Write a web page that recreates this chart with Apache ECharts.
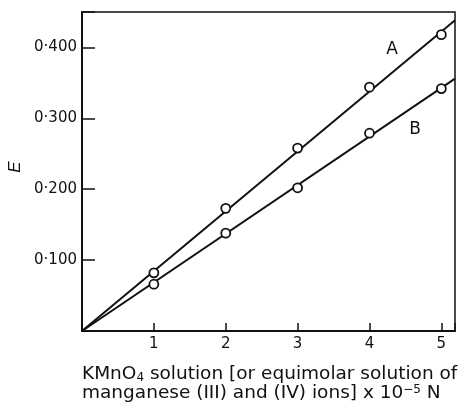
<!DOCTYPE html>
<html>
<head>
<meta charset="utf-8">
<script src="https://cdn.jsdelivr.net/npm/echarts@6/dist/echarts.min.js"></script>
<style>
  html, body { margin: 0; padding: 0; background: #fff; }
  #chart { width: 458px; height: 405px; }
</style>
</head>
<body>
<div id="chart"></div>
<script>
// Concentration of KMnO4 (x 10^-5 N)
const concentrations = [1, 2, 3, 4, 5];
// Measured extinction E for curves A and B
const extinctionA = [0.082, 0.173, 0.258, 0.344, 0.418];
const extinctionB = [0.066, 0.138, 0.202, 0.279, 0.342];
// Straight calibration lines through the origin (end points)
const fitLineA = [[0, 0], [5.19, 0.4385]];
const fitLineB = [[0, 0], [5.19, 0.356]];
const curveNames = ['A', 'B'];
const xTickLabels = ['1', '2', '3', '4', '5'];
const yTickLabels = ['0·100', '0·200', '0·300', '0·400'];

const FONT = '"DejaVu Sans", Verdana, sans-serif';
const SERIF_ITALIC_FONT = '"Liberation Sans", Arial, sans-serif';
const INK = '#111';

const pairs = (xs, ys) => xs.map((x, i) => [x, ys[i]]);

const chart = echarts.init(document.getElementById('chart'), null, { renderer: 'canvas' });

chart.setOption({
  animation: false,
  backgroundColor: '#fff',
  grid: {
    left: 82, top: 12, right: 1.5, bottom: 74,
    show: true, borderColor: INK, borderWidth: 1.5
  },
  xAxis: {
    type: 'value', min: 0, max: 5.19, interval: 1,
    axisLine: { show: true, lineStyle: { color: INK, width: 2 } },
    axisTick: { show: true, inside: true, length: 8, lineStyle: { color: INK, width: 1.5 } },
    splitLine: { show: false },
    axisLabel: {
      margin: 6, color: INK, fontFamily: FONT, fontSize: 15,
      formatter: v => {
        const i = concentrations.indexOf(Math.round(v));
        return (i >= 0 && Math.abs(v - Math.round(v)) < 1e-6) ? xTickLabels[i] : '';
      }
    }
  },
  yAxis: {
    type: 'value', min: 0, max: 0.45, interval: 0.1,
    axisLine: { show: true, lineStyle: { color: INK, width: 2 } },
    axisTick: { show: true, inside: true, length: 13, lineStyle: { color: INK, width: 1.5 } },
    splitLine: { show: false },
    axisLabel: {
      margin: 5, color: INK, fontFamily: FONT, fontSize: 15,
      formatter: v => {
        const k = Math.round(v * 10);
        return (k >= 1 && k <= yTickLabels.length) ? yTickLabels[k - 1] : '';
      }
    }
  },
  title: {
    left: 82, top: 365, padding: 0,
    text: '{t|KMnO}{sub|4}{t| solution [or equimolar solution of}\n' +
          '{t|manganese (III) and (IV) ions] x 10}{sup|−5}{t| N}',
    textStyle: {
      fontFamily: FONT, fontSize: 18.5, fontWeight: 'normal', color: INK,
      rich: {
        t: { fontFamily: FONT, fontSize: 18.5, color: INK, lineHeight: 19 },
        sub: { fontFamily: FONT, fontSize: 12, color: INK, verticalAlign: 'bottom', lineHeight: 19 },
        sup: { fontFamily: FONT, fontSize: 12, color: INK, verticalAlign: 'top', lineHeight: 19 }
      }
    }
  },
  graphic: [
    {
      type: 'text', x: 15, y: 167, rotation: Math.PI / 2,
      style: {
        text: 'E', fill: INK, font: 'italic 17px ' + SERIF_ITALIC_FONT,
        align: 'center', verticalAlign: 'middle'
      }
    },
    {
      type: 'text', x: 392, y: 50,
      style: { text: curveNames[0], fill: INK, font: '17px ' + FONT, align: 'center', verticalAlign: 'middle' }
    },
    {
      type: 'text', x: 415, y: 130,
      style: { text: curveNames[1], fill: INK, font: '17px ' + FONT, align: 'center', verticalAlign: 'middle' }
    }
  ],
  series: [
    {
      name: curveNames[0] + ' line', type: 'line', data: fitLineA,
      symbol: 'none', lineStyle: { color: INK, width: 2 }, z: 2
    },
    {
      name: curveNames[1] + ' line', type: 'line', data: fitLineB,
      symbol: 'none', lineStyle: { color: INK, width: 2 }, z: 2
    },
    {
      name: curveNames[0], type: 'scatter', data: pairs(concentrations, extinctionA),
      symbol: 'circle', symbolSize: 9,
      itemStyle: { color: '#fff', borderColor: INK, borderWidth: 1.8, opacity: 1 }, z: 3
    },
    {
      name: curveNames[1], type: 'scatter', data: pairs(concentrations, extinctionB),
      symbol: 'circle', symbolSize: 9,
      itemStyle: { color: '#fff', borderColor: INK, borderWidth: 1.8, opacity: 1 }, z: 3
    }
  ]
});
</script>
</body>
</html>
